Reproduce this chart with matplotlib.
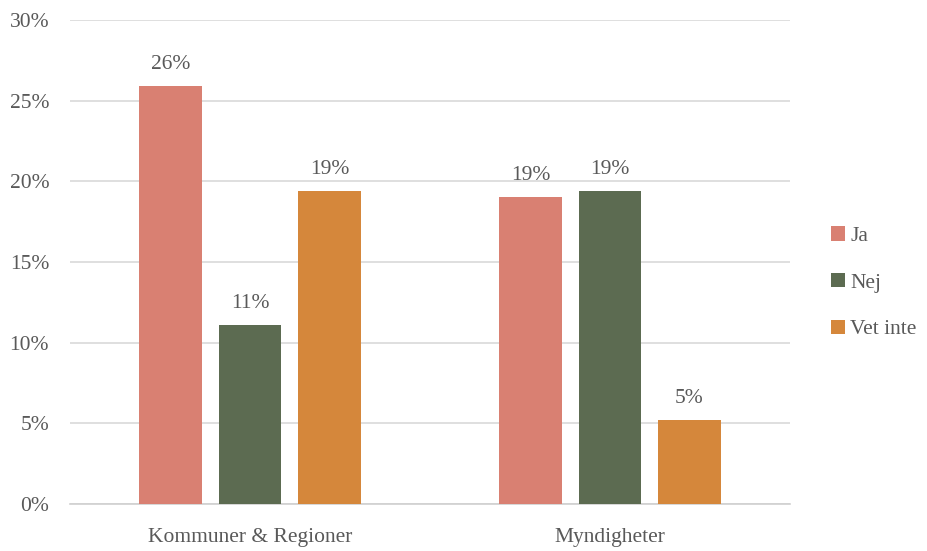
import numpy as np
import matplotlib.pyplot as plt
from matplotlib.ticker import PercentFormatter

categories = ['Kommuner & Regioner', 'Myndigheter']
series = ['Ja', 'Nej', 'Vet inte']
ja = [25.9, 19.0]
nej = [11.1, 19.4]
vet_inte = [19.4, 5.2]
colors = ['#D98072', '#5C6B51', '#D5873B']

plt.rcParams['font.family'] = ['Liberation Serif', 'DejaVu Serif']
text_color = '#595959'
fs = 15.5

fig = plt.figure(figsize=(9.28, 5.51), dpi=100)
ax = fig.add_axes([70 / 928, 1 - 504 / 551, 720 / 928, 484 / 551])

x = np.arange(len(categories))
width = 0.174
step = 0.221
for i, (name, vals) in enumerate(zip(series, [ja, nej, vet_inte])):
    bars = ax.bar(x + (i - 1) * step, vals, width, color=colors[i], label=name, zorder=3)
    for b, v in zip(bars, vals):
        ax.text(b.get_x() + b.get_width() / 2, v + 0.75, f'{v:.0f}%',
                ha='center', va='bottom', fontsize=fs, color=text_color)

ax.set_xlim(-0.5, 1.5)
ax.set_ylim(0, 30)
ax.set_yticks(np.arange(0, 31, 5))
ax.yaxis.set_major_formatter(PercentFormatter(decimals=0))
ax.set_xticks(x)
ax.set_xticklabels(categories)
ax.grid(axis='y', color='#D9D9D9', linewidth=1.2, zorder=0)
for s in ['top', 'right', 'left']:
    ax.spines[s].set_visible(False)
ax.spines['bottom'].set_color('#D0D0D0')
ax.spines['bottom'].set_linewidth(1.2)
ax.tick_params(axis='both', length=0, labelsize=fs, labelcolor=text_color)
ax.tick_params(axis='x', pad=17)
ax.tick_params(axis='y', pad=15)

ax.legend(loc='center left', bbox_to_anchor=(1.03, 0.457), frameon=False,
          fontsize=fs, labelcolor=text_color, handlelength=0.65, handleheight=0.65,
          handletextpad=0.25, labelspacing=1.25)

fig.savefig('out.png', dpi=100)
